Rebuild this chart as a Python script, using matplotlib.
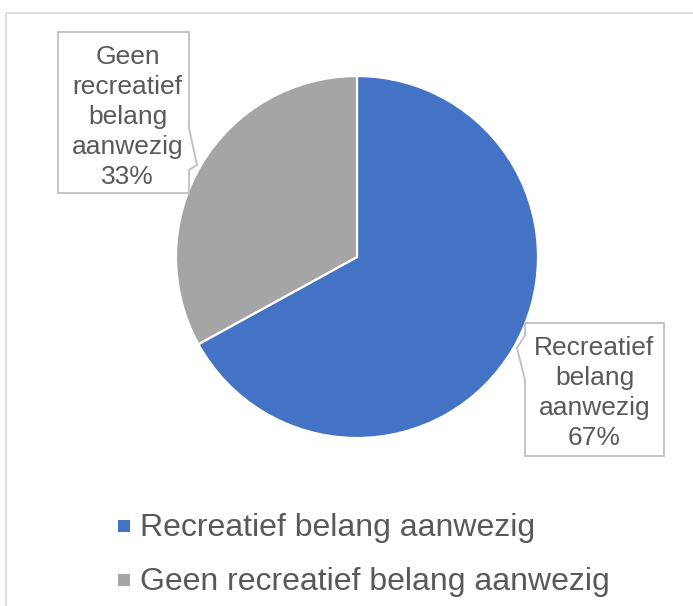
import matplotlib.pyplot as plt
from matplotlib.patches import Polygon, Rectangle

categories = ['Recreatief belang aanwezig', 'Geen recreatief belang aanwezig']
shares = [67, 33]
labels = ['Recreatief\nbelang\naanwezig\n67%', 'Geen\nrecreatief\nbelang\naanwezig\n33%']
colors = ['#4472C4', '#A5A5A5']

W, H = 693, 606
text_color = '#595959'
plt.rcParams['font.family'] = ['Liberation Sans', 'DejaVu Sans']

fig = plt.figure(figsize=(W / 100, H / 100), dpi=100)
ax = fig.add_axes([0, 0, 1, 1])

# pie in pixel coordinates (y axis flipped further down)
ax.pie(shares, colors=colors, center=(357, 257), radius=181,
       startangle=270, counterclock=True,
       wedgeprops=dict(edgecolor='white', linewidth=1.6))

ax.set_xlim(0, W)
ax.set_ylim(H, 0)
ax.set_aspect('auto')
ax.axis('off')

# chart area border
ax.add_patch(Rectangle((6, 13), W, H, facecolor='none', edgecolor='#D9D9D9', linewidth=1.2))

# callout boxes, text placed by baseline of the last line
callouts = [
    ([(525, 323), (664, 323), (664, 456), (525, 456), (525, 380), (517, 348), (525, 335)], 445),
    ([(58, 32), (189, 32), (189, 128), (197, 165), (189, 170), (189, 193), (58, 193)], 184),
]
for (verts, base), lab in zip(callouts, labels):
    ax.add_patch(Polygon(verts, closed=True, facecolor='white', edgecolor='#BFBFBF', linewidth=1.3))
    xs = [v[0] for v in verts[:4]]
    cx = (min(xs) + max(xs)) / 2
    ax.text(cx, base, lab, ha='center', va='baseline', multialignment='center',
            fontsize=19, color=text_color, linespacing=1.31)

# legend
for i, (cat, col) in enumerate(zip(categories, colors)):
    base = 536 + i * 54
    ax.add_patch(Rectangle((118, base - 16), 12, 12, facecolor=col, edgecolor='none'))
    ax.text(140, base, cat, ha='left', va='baseline', fontsize=23, color=text_color)

plt.savefig('out.png', dpi=100)
plt.close(fig)
